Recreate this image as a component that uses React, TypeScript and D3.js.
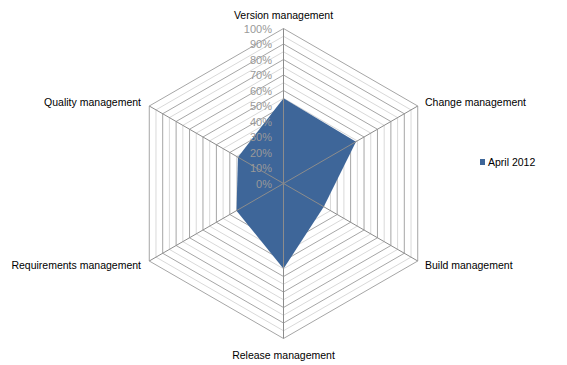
import React from "react";
import * as d3 from "d3";

const categories = [
  "Version management",
  "Change management",
  "Build management",
  "Release management",
  "Requirements management",
  "Quality management",
];
const seriesName = "April 2012";
const values = [0.55, 0.54, 0.3, 0.55, 0.35, 0.34];
const ticks = [0, 0.1, 0.2, 0.3, 0.4, 0.5, 0.6, 0.7, 0.8, 0.9, 1.0];
const minorTicks = [0.05, 0.15, 0.25, 0.35, 0.45, 0.55, 0.65, 0.75, 0.85, 0.95];

const W = 567;
const H = 365;
const cx = 283.5;
const cy = 183.5;
const R = 155;
const FONT = "'Liberation Sans', Arial, sans-serif";
const FILL = "#3E6699";

export default function App() {
  const r = d3.scaleLinear().domain([0, 1]).range([0, R]);
  const n = categories.length;
  const angle = (i: number) => (i * 2 * Math.PI) / n;
  const pt = (i: number, v: number): [number, number] => [
    cx + r(v) * Math.sin(angle(i)),
    cy - r(v) * Math.cos(angle(i)),
  ];
  const ring = (v: number) => {
    const pts = d3.range(n).map((i) => pt(i, v));
    return d3.line()(pts.concat([pts[0]])) as string;
  };
  const area = (() => {
    const pts = values.map((v, i) => pt(i, v));
    return (d3.line()(pts) as string) + "Z";
  })();
  const fmt = d3.format(".0%");

  const labelPos = [
    { x: 283.5, y: 19, anchor: "middle" },
    { x: 425, y: 106, anchor: "start" },
    { x: 425, y: 269, anchor: "start" },
    { x: 283.5, y: 359, anchor: "middle" },
    { x: 141, y: 269, anchor: "end" },
    { x: 141, y: 106, anchor: "end" },
  ];

  return (
    <svg width={W} height={H} style={{ position: "absolute", left: 0, top: 0, background: "#fff" }}>
      <rect x={0} y={0} width={W} height={H} fill="#fff" />
      {minorTicks.map((t) => (
        <path key={"m" + t} d={ring(t)} fill="none" stroke="#D9D9D9" strokeWidth={1} />
      ))}
      {ticks.filter((t) => t > 0).map((t) => (
        <path key={"t" + t} d={ring(t)} fill="none" stroke="#A6A6A6" strokeWidth={1} />
      ))}
      <path d={area} fill={FILL} stroke="none" />
      {categories.map((c, i) => {
        const [x, y] = pt(i, 1);
        return <line key={"s" + c} x1={cx} y1={cy} x2={x} y2={y} stroke="#8C8C8C" strokeWidth={1} />;
      })}
      {ticks.map((t) => (
        <text
          key={"l" + t}
          x={cx - 11.5}
          y={cy - r(t) + 4}
          textAnchor="end"
          fontFamily={FONT}
          fontSize={11}
          fill="#999999"
        >
          {fmt(t)}
        </text>
      ))}
      {categories.map((c, i) => (
        <text
          key={"c" + c}
          x={labelPos[i].x}
          y={labelPos[i].y}
          textAnchor={labelPos[i].anchor as any}
          fontFamily={FONT}
          fontSize={10.5}
          fill="#000"
        >
          {c}
        </text>
      ))}
      <rect x={480} y={159} width={5} height={6} fill={FILL} />
      <text x={488} y={166} fontFamily={FONT} fontSize={10.5} fill="#000">
        {seriesName}
      </text>
    </svg>
  );
}
